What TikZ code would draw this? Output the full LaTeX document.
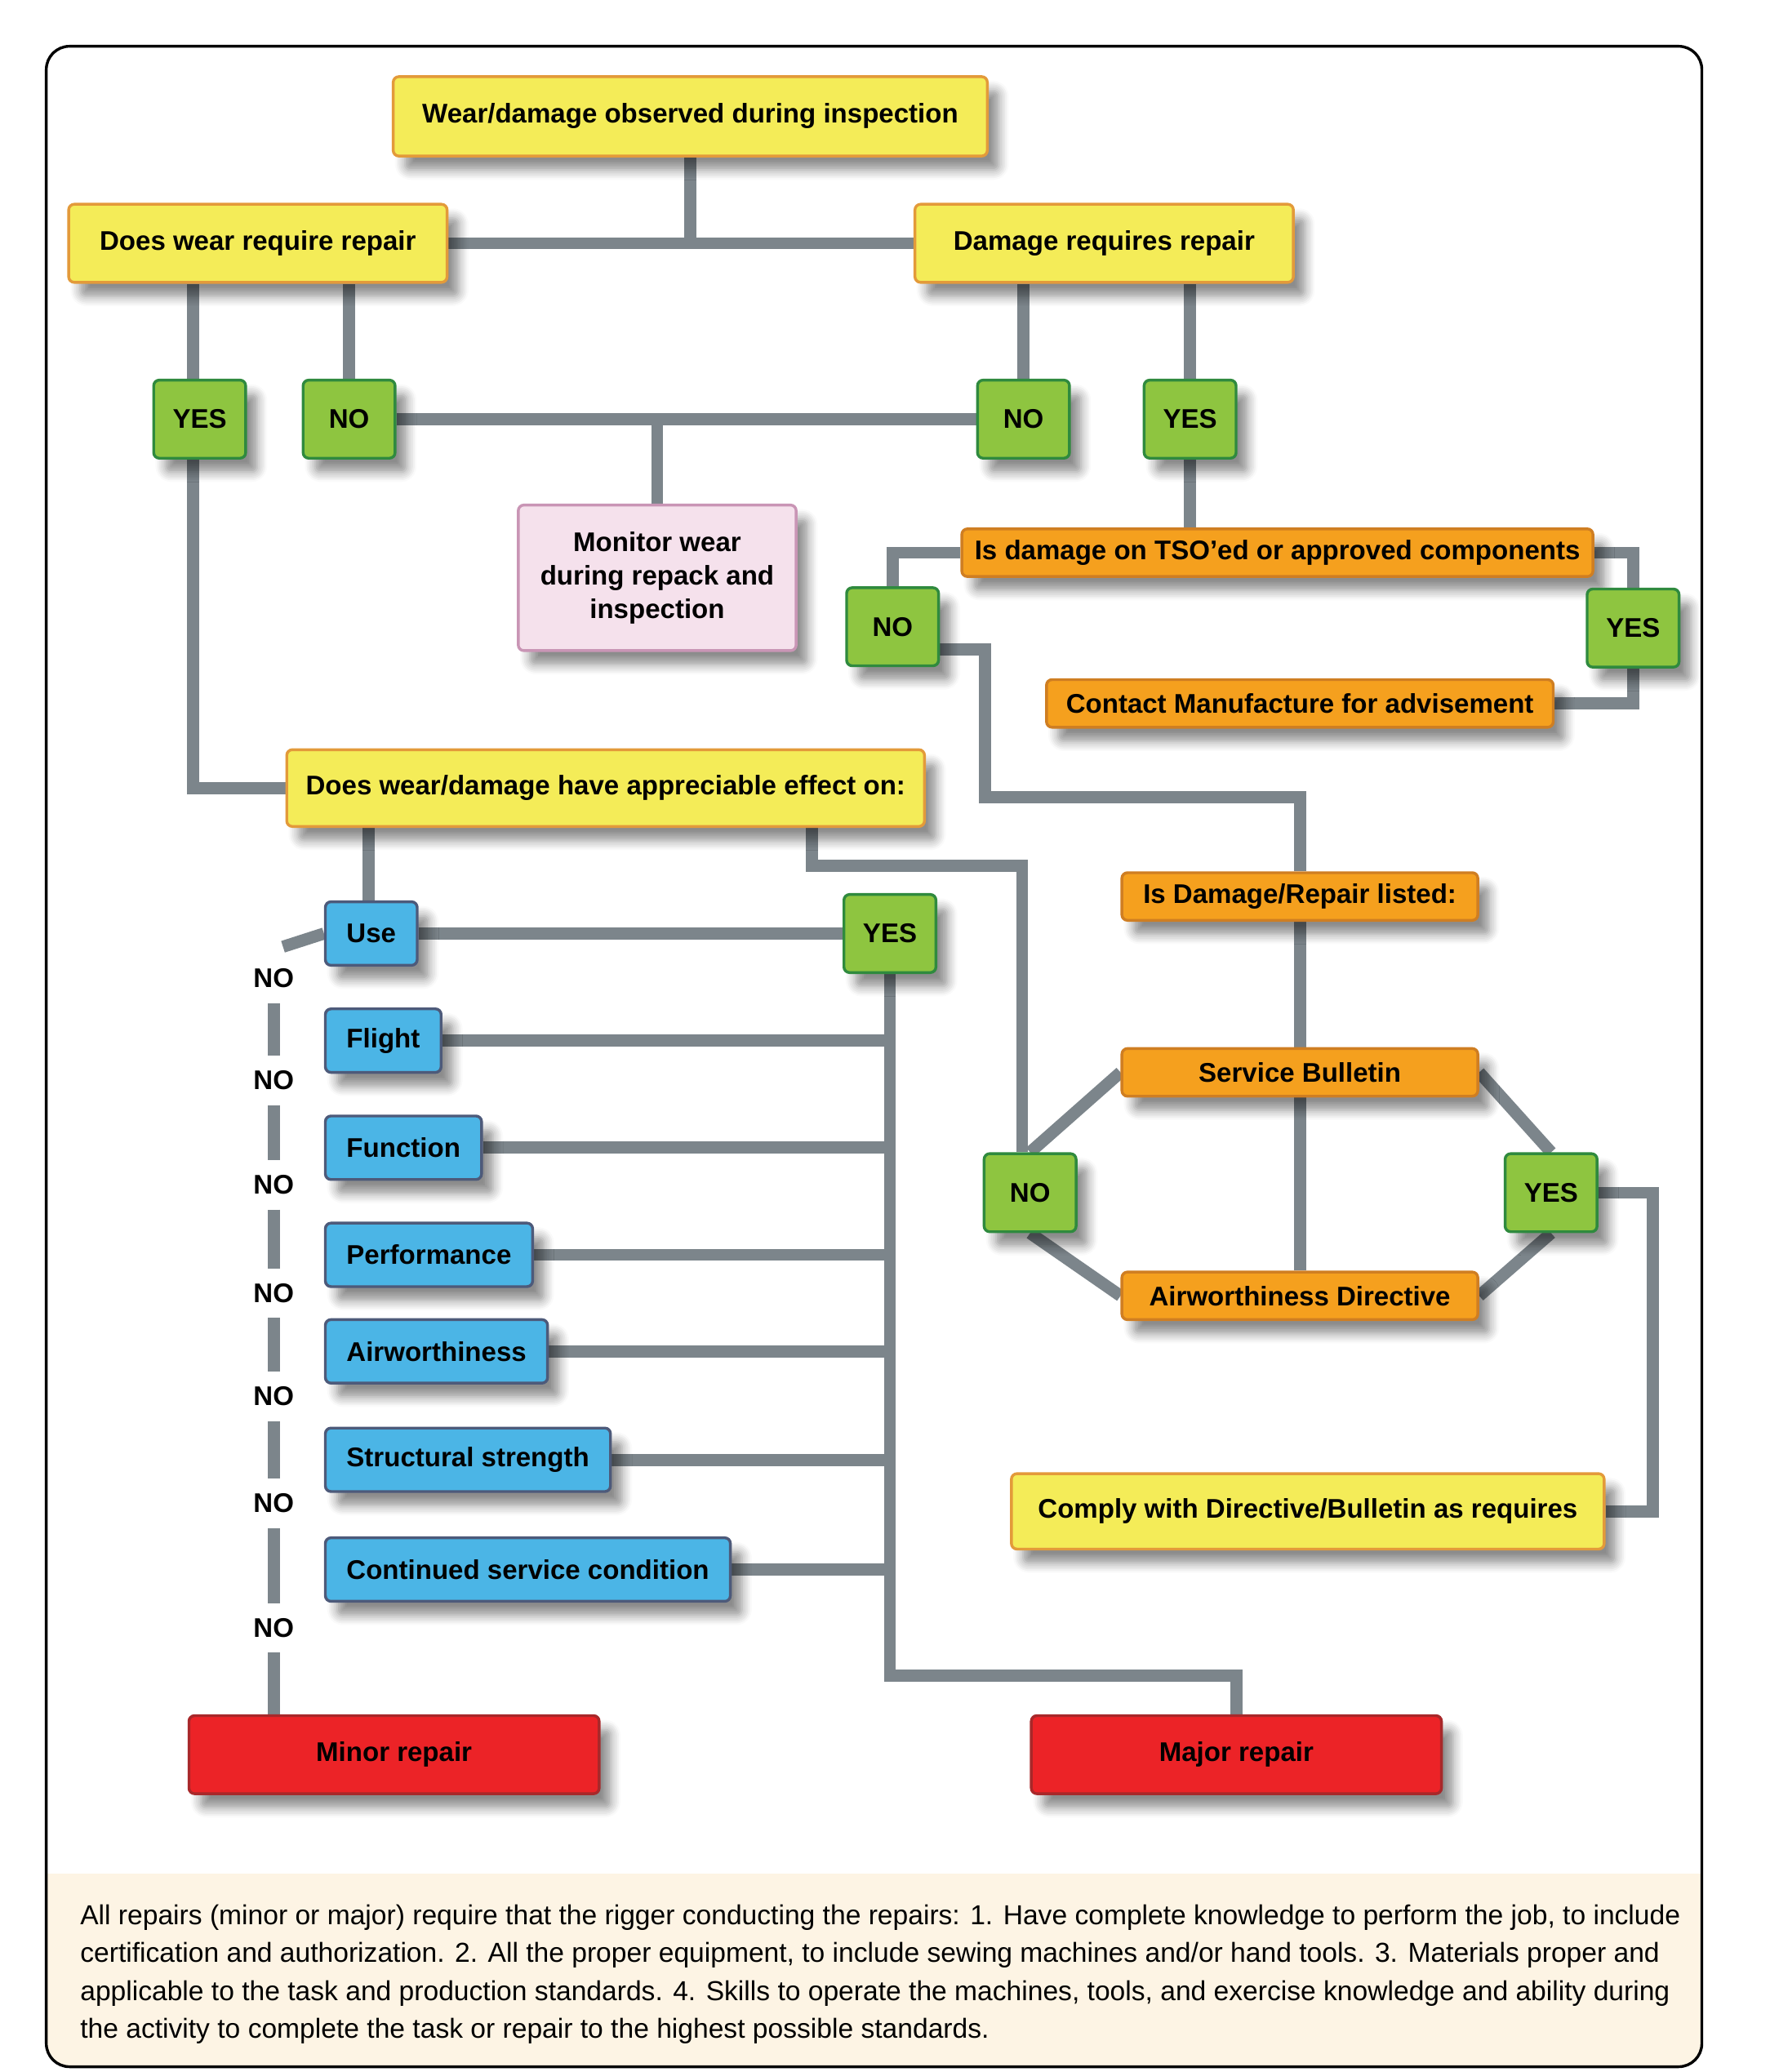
\documentclass[tikz,border=0pt]{standalone}
\usepackage{fontspec}
\setmainfont{Liberation Sans}
\usetikzlibrary{shadows.blur,backgrounds,calc}
\definecolor{ylw}{HTML}{F4EC58}
\definecolor{ylwb}{HTML}{E39A3A}
\definecolor{grn}{HTML}{8EC540}
\definecolor{grnb}{HTML}{2F8A3E}
\definecolor{org}{HTML}{F5A01E}
\definecolor{orgb}{HTML}{CF7E22}
\definecolor{blu}{HTML}{4BB5E6}
\definecolor{blub}{HTML}{4D5A7A}
\definecolor{redf}{HTML}{EC2327}
\definecolor{redb}{HTML}{A8282A}
\definecolor{pnk}{HTML}{F5E1EC}
\definecolor{pnkb}{HTML}{C995B5}
\definecolor{conn}{HTML}{7C858B}
\definecolor{beige}{HTML}{FDF4E4}
\tikzset{
  bx/.style={rounded corners=1.2pt, line width=0.6pt, inner sep=0pt, font=\fontsize{5.8}{7.2}\selectfont\bfseries,
    blur shadow={shadow xshift=2.5pt, shadow yshift=-3pt, shadow blur steps=6, shadow opacity=45}},
  ybox/.style={bx, fill=ylw, draw=ylwb},
  gbox/.style={bx, fill=grn, draw=grnb, minimum width=0.695cm, minimum height=0.59cm},
  obox/.style={bx, fill=org, draw=orgb, minimum height=0.36cm},
  bbox/.style={bx, fill=blu, draw=blub, minimum height=0.48cm, inner xsep=0.16cm, anchor=west},
  rbox/.style={bx, fill=redf, draw=redb, minimum width=3.1cm, minimum height=0.59cm},
  pbox/.style={bx, fill=pnk, draw=pnkb, minimum width=2.1cm, minimum height=1.1cm, align=center},
  nolab/.style={font=\fontsize{5.8}{7}\selectfont\bfseries, inner sep=0pt, minimum height=0.36cm, minimum width=0.4cm},
  cn/.style={draw=conn, line width=2.6pt},
}
\begin{document}
\begin{tikzpicture}[x=0.01cm,y=-0.01cm]
\useasboundingbox (0,0) rectangle (1338,1567);
\fill[beige] (35,1417) -- (1287,1417) [rounded corners=5pt] -- (1287,1563) -- (35,1563) [sharp corners] -- cycle;
\draw[line width=0.6pt, rounded corners=5pt] (35,35) rectangle (1287,1563);
\node[anchor=north west, align=left, inner sep=0pt, font=\fontsize{5.9}{8.1}\selectfont] (foot) at (60,1440) {All repairs (minor or major) require that the rigger conducting the repairs: 1. Have complete knowledge to perform the job, to include\\certification and authorization. 2. All the proper equipment, to include sewing machines and/or hand tools. 3. Materials proper and\\applicable to the task and production standards. 4. Skills to operate the machines, tools, and exercise knowledge and ability during\\the activity to complete the task or repair to the highest possible standards.};

% nodes
\node[ybox, minimum width=4.49cm, minimum height=0.6cm] (top) at (522,88) {Wear/damage observed during inspection};
\node[ybox, minimum width=2.86cm, minimum height=0.59cm] (dwr) at (195,184) {Does wear require repair};
\node[ybox, minimum width=2.86cm, minimum height=0.59cm] (drr) at (835,184) {Damage requires repair};
\node[gbox] (yes1) at (151,317) {YES};
\node[gbox] (no1) at (264,317) {NO};
\node[gbox] (no2) at (774,317) {NO};
\node[gbox] (yes2) at (900,317) {YES};
\node[pbox] (mon) at (497,437) {Monitor wear\\during repack and\\inspection};
\node[obox, minimum width=4.77cm] (tso) at (966,418) {Is damage on TSO'ed or approved components};
\node[gbox] (no3) at (675,474) {NO};
\node[gbox] (yes3) at (1235,475) {YES};
\node[obox, minimum width=3.83cm] (contact) at (983,532) {Contact Manufacture for advisement};
\node[ybox, minimum width=4.82cm, minimum height=0.58cm] (eff) at (458,596) {Does wear/damage have appreciable effect on:};
\node[obox, minimum width=2.69cm] (listed) at (983,678) {Is Damage/Repair listed:};
\node[obox, minimum width=2.69cm] (sb) at (983,811) {Service Bulletin};
\node[obox, minimum width=2.69cm] (ad) at (983,980) {Airworthiness Directive};
\node[gbox] (no4) at (779,902) {NO};
\node[gbox] (yes4) at (1173,902) {YES};
\node[ybox, minimum width=4.48cm, minimum height=0.57cm] (comply) at (989,1143) {Comply with Directive/Bulletin as requires};
\node[gbox] (yes5) at (673,706) {YES};
\node[bbox] (use) at (245,706) {Use};
\node[bbox] (flight) at (245,787) {Flight};
\node[bbox] (func) at (245,868) {Function};
\node[bbox] (perf) at (245,949) {Performance};
\node[bbox] (airw) at (245,1022) {Airworthiness};
\node[bbox] (struct) at (245,1104) {Structural strength};
\node[bbox] (cont) at (245,1187) {Continued service condition};
\node[rbox] (minor) at (298,1327) {Minor repair};
\node[rbox] (major) at (935,1327) {Major repair};
\node[nolab] (n1) at (207,740) {NO};
\node[nolab] (n2) at (207,817) {NO};
\node[nolab] (n3) at (207,896) {NO};
\node[nolab] (n4) at (207,978) {NO};
\node[nolab] (n5) at (207,1056) {NO};
\node[nolab] (n6) at (207,1137) {NO};
\node[nolab] (n7) at (207,1231) {NO};
\coordinate (b1) at (745,603);
\coordinate (b2) at (614,655);
\coordinate (b3) at (1250,0);
\coordinate (b4) at (0,1267);
\coordinate (b5) at (214,716);
\coordinate (b6) at (146,0);

\begin{scope}[on background layer]
\draw[cn] (top.south) -- (top.south |- dwr.east);
\draw[cn] (dwr.east) -- (drr.west);
\draw[cn] (b6 |- yes1.north) -- (b6 |- dwr.south);
\draw[cn] (no1.north) -- (no1.north |- dwr.south);
\draw[cn] (no2.north) -- (no2.north |- drr.south);
\draw[cn] (yes2.north) -- (yes2.north |- drr.south);
\draw[cn] (no1.east) -- (no2.west);
\draw[cn] (mon.north) -- (mon.north |- no1.east);
\draw[cn] (yes2.south) -- (yes2.south |- tso.north);
\draw[cn] (tso.west) -| (no3.north);
\draw[cn] (tso.east) -| (yes3.north);
\draw[cn] (yes3.south) |- (contact.east);
\draw[cn] ([yshift=-0.17cm]no3.east) -| (b1) -| (listed.north);
\draw[cn] (listed.south) -- (sb.north);
\draw[cn] (sb.south) -- (ad.north);
\draw[cn] (sb.west) -- (no4.north);
\draw[cn] (ad.west) -- (no4.south);
\draw[cn] (sb.east) -- (yes4.north);
\draw[cn] (ad.east) -- (yes4.south);
\draw[cn] (yes4.east) -| (b3 |- comply.east) -- (comply.east);
\draw[cn] (yes1.south -| b6) |- (eff.west);
\draw[cn] (use.north -| 279,0) -- (eff.south -| 279,0);
\draw[cn] (eff.south -| b2) -- (b2) -| (no4.north -| 773,0);
\draw[cn] (use.east) -- (yes5.west);
\draw[cn] (yes5.south) |- (b4 -| major.north) -- (major.north);
\foreach \b in {flight,func,perf,airw,struct,cont} \draw[cn] (\b.east) -- (\b.east -| yes5.south);
\draw[cn] (use.west) -- (b5);
\draw[cn] (n1.south) -- (n2.north);
\draw[cn] (n2.south) -- (n3.north);
\draw[cn] (n3.south) -- (n4.north);
\draw[cn] (n4.south) -- (n5.north);
\draw[cn] (n5.south) -- (n6.north);
\draw[cn] (n6.south) -- (n7.north);
\draw[cn] (n7.south) -- (n7.south |- minor.north);
\end{scope}
\end{tikzpicture}
\end{document}
